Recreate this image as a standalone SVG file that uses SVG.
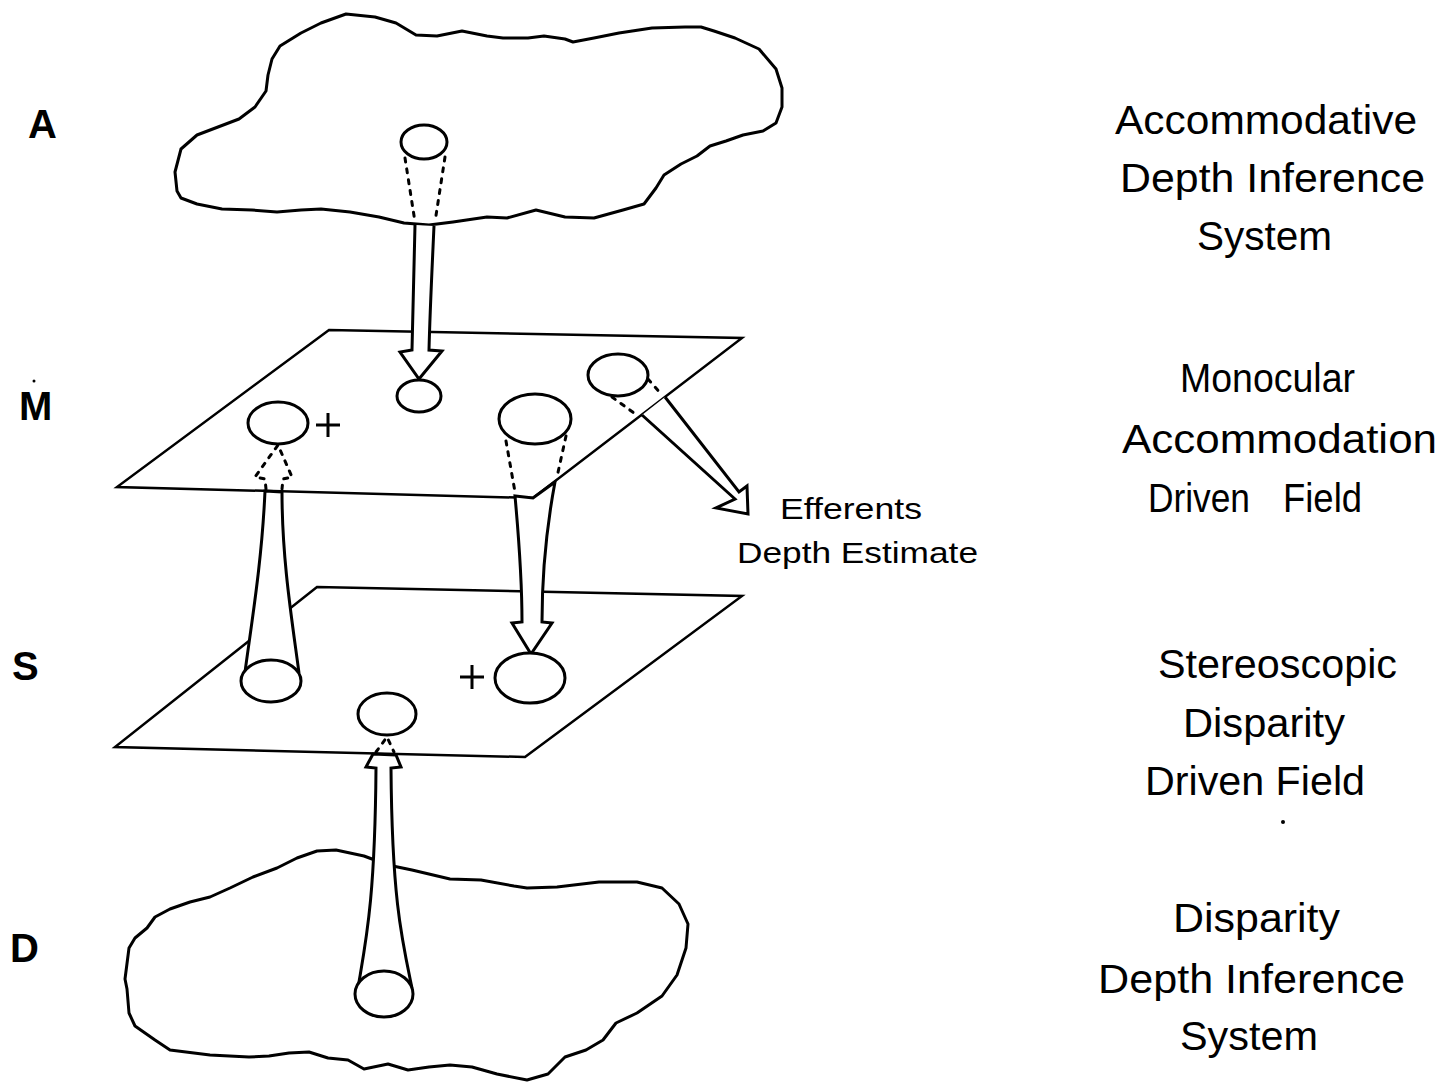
<svg xmlns="http://www.w3.org/2000/svg" width="1447" height="1086" viewBox="0 0 1447 1086">
<style>
.ln{fill:none;stroke:#000;stroke-width:3;stroke-linejoin:round;stroke-linecap:round}
.pl{fill:none;stroke:#000;stroke-width:2.5;stroke-linejoin:miter}
.sh{fill:#fff;stroke:#000;stroke-width:3;stroke-linejoin:miter}
.cell{fill:#fff;stroke:#000;stroke-width:3}
.dot{fill:none;stroke:#000;stroke-width:3;stroke-dasharray:4 7;stroke-linecap:round;stroke-linejoin:round}
.lab{font-family:"Liberation Sans",Arial,sans-serif;font-weight:bold;font-size:40px}
.txt{font-family:"Liberation Sans",Arial,sans-serif;font-size:40px}
.sm{font-family:"Liberation Sans",Arial,sans-serif;font-size:29px}
.plus{fill:none;stroke:#000;stroke-width:3}
</style>
<rect width="1447" height="1086" fill="#fff"/>

<g id="cloud-A">
<path class="ln" d="M177,191 L175,172 L181,149 L197,135 L218,127 L239,119 L255,107 L266,91 L268,75 L272,59 L280,46 L301,33 L321,23 L346,14 L375,17 L396,23 L416,35 L437,36 L462,31 L487,36 L503,38 L528,38 L544,36 L565,39 L573,42 L594,38 L619,33 L652,28 L685,27 L701,27 L714,31 L735,38 L759,49 L776,69 L782,88 L782,107 L776,123 L763,131 L743,135 L726,141 L710,146 L697,156 L681,164 L664,175 L656,188 L644,204 L623,210 L594,218 L565,217 L536,210 L507,218 L487,217 L453,222 L429,225 L404,223 L379,217 L350,212 L321,209 L301,210 L277,212 L252,210 L222,209 L197,204 L181,198 Z"/>
</g>

<g id="cloud-D">
<path class="ln" d="M336,850 L364,856 L388,865 L412,870 L450,879 L481,880 L514,886 L527,888 L557,887 L599,882 L637,882 L662,888 L679,904 L688,924 L686,948 L677,975 L662,996 L637,1013 L616,1023 L603,1040 L586,1050 L565,1057 L548,1074 L527,1080 L497,1074 L472,1067 L450,1065 L429,1067 L408,1070 L388,1064 L364,1069 L348,1060 L328,1058 L309,1052 L289,1053 L269,1056 L249,1057 L210,1055 L170,1050 L155,1040 L135,1026 L129,1013 L127,989 L125,979 L129,948 L135,938 L147,928 L155,917 L170,909 L190,902 L210,897 L230,888 L253,877 L277,868 L297,858 L317,851 Z"/>
</g>

<g id="plane-M">
<polygon class="pl" points="329,330 742,338 533,498 117,487"/>
</g>

<g id="plane-S">
<polygon class="pl" points="317,587 742,596 525,757 115,747"/>
</g>

<g id="connectors">
<!-- A to M -->
<path class="dot" d="M405,158 L415,222"/>
<path class="dot" d="M445,157 L435,222"/>
<path class="sh" d="M415,225 C414,270 413,310 412,350 L400,352 L419,379 L442,351 L429,350 C430,310 432,270 434,226"/>
<!-- S to M (left) -->
<path class="sh" d="M245,672 C252,620 262,560 265,491 L282,492 C282,560 292,620 299,673"/>
<path class="dot" d="M266,489 L265,479 L255,477 L278,445 L292,477 L283,479 L282,489"/>
<!-- M to S (right) -->
<path class="dot" d="M506,441 L515,492"/>
<path class="dot" d="M566,436 L557,477"/>
<path class="sh" d="M515,496 C519,540 522,580 522,622 L512,623 L531,654 L552,623 L542,622 C542,580 546,530 555,482 L533,498 Z"/>
<!-- Efferents -->
<path class="dot" d="M612,397 L634,413"/>
<path class="dot" d="M648,379 L662,395"/>
<path class="sh" d="M642,415 L735,499 L716,508 L748,514 L747,486 L739,492 L665,397"/>
<!-- D to S -->
<path class="sh" d="M358,988 C366,940 375,900 376,768 L366,767 L373,754 L396,755 L401,767 L391,768 C392,900 402,940 412,988"/>
<path class="dot" d="M376,752 L387,737 L394,752"/>
</g>

<g id="cells">
<ellipse class="cell" cx="424" cy="142" rx="23" ry="17"/>
<ellipse class="cell" cx="419" cy="396" rx="22" ry="16"/>
<ellipse class="cell" cx="278" cy="423" rx="30" ry="21"/>
<ellipse class="cell" cx="535" cy="419" rx="36" ry="25"/>
<ellipse class="cell" cx="618" cy="375" rx="30" ry="21"/>
<ellipse class="cell" cx="271" cy="681" rx="30" ry="21"/>
<ellipse class="cell" cx="530" cy="678" rx="35" ry="25"/>
<ellipse class="cell" cx="387" cy="714" rx="29" ry="21"/>
<ellipse class="cell" cx="384" cy="994" rx="29" ry="23"/>
<path class="plus" d="M316,425 H340 M328,413 V437"/>
<path class="plus" d="M460,677 H484 M472,665 V689"/>
</g>

<g id="labels-left">
<text class="lab" x="28" y="138">A</text>
<text class="lab" x="19" y="420">M</text>
<text class="lab" x="12" y="680">S</text>
<text class="lab" x="10" y="962">D</text>
<circle cx="34" cy="381" r="1.5"/>
</g>

<g id="labels-right">
<text class="txt" x="1115" y="134" textLength="302" lengthAdjust="spacingAndGlyphs">Accommodative</text>
<text class="txt" x="1120" y="192" textLength="305" lengthAdjust="spacingAndGlyphs">Depth Inference</text>
<text class="txt" x="1197" y="250" textLength="135" lengthAdjust="spacingAndGlyphs">System</text>
<text class="txt" x="1180" y="392" textLength="175" lengthAdjust="spacingAndGlyphs">Monocular</text>
<text class="txt" x="1122" y="453" textLength="315" lengthAdjust="spacingAndGlyphs">Accommodation</text>
<text class="txt" x="1148" y="512" textLength="102" lengthAdjust="spacingAndGlyphs">Driven</text>
<text class="txt" x="1283" y="512" textLength="79" lengthAdjust="spacingAndGlyphs">Field</text>
<text class="txt" x="1158" y="678" textLength="239" lengthAdjust="spacingAndGlyphs">Stereoscopic</text>
<text class="txt" x="1183" y="737" textLength="162" lengthAdjust="spacingAndGlyphs">Disparity</text>
<text class="txt" x="1145" y="795" textLength="220" lengthAdjust="spacingAndGlyphs">Driven Field</text>
<circle cx="1283" cy="822" r="2"/>
<text class="txt" x="1173" y="932" textLength="167" lengthAdjust="spacingAndGlyphs">Disparity</text>
<text class="txt" x="1098" y="993" textLength="307" lengthAdjust="spacingAndGlyphs">Depth Inference</text>
<text class="txt" x="1180" y="1050" textLength="138" lengthAdjust="spacingAndGlyphs">System</text>
</g>

<g id="efferents-label">
<text class="sm" x="780" y="519" textLength="142" lengthAdjust="spacingAndGlyphs">Efferents</text>
<text class="sm" x="737" y="563" textLength="241" lengthAdjust="spacingAndGlyphs">Depth Estimate</text>
</g>
</svg>
